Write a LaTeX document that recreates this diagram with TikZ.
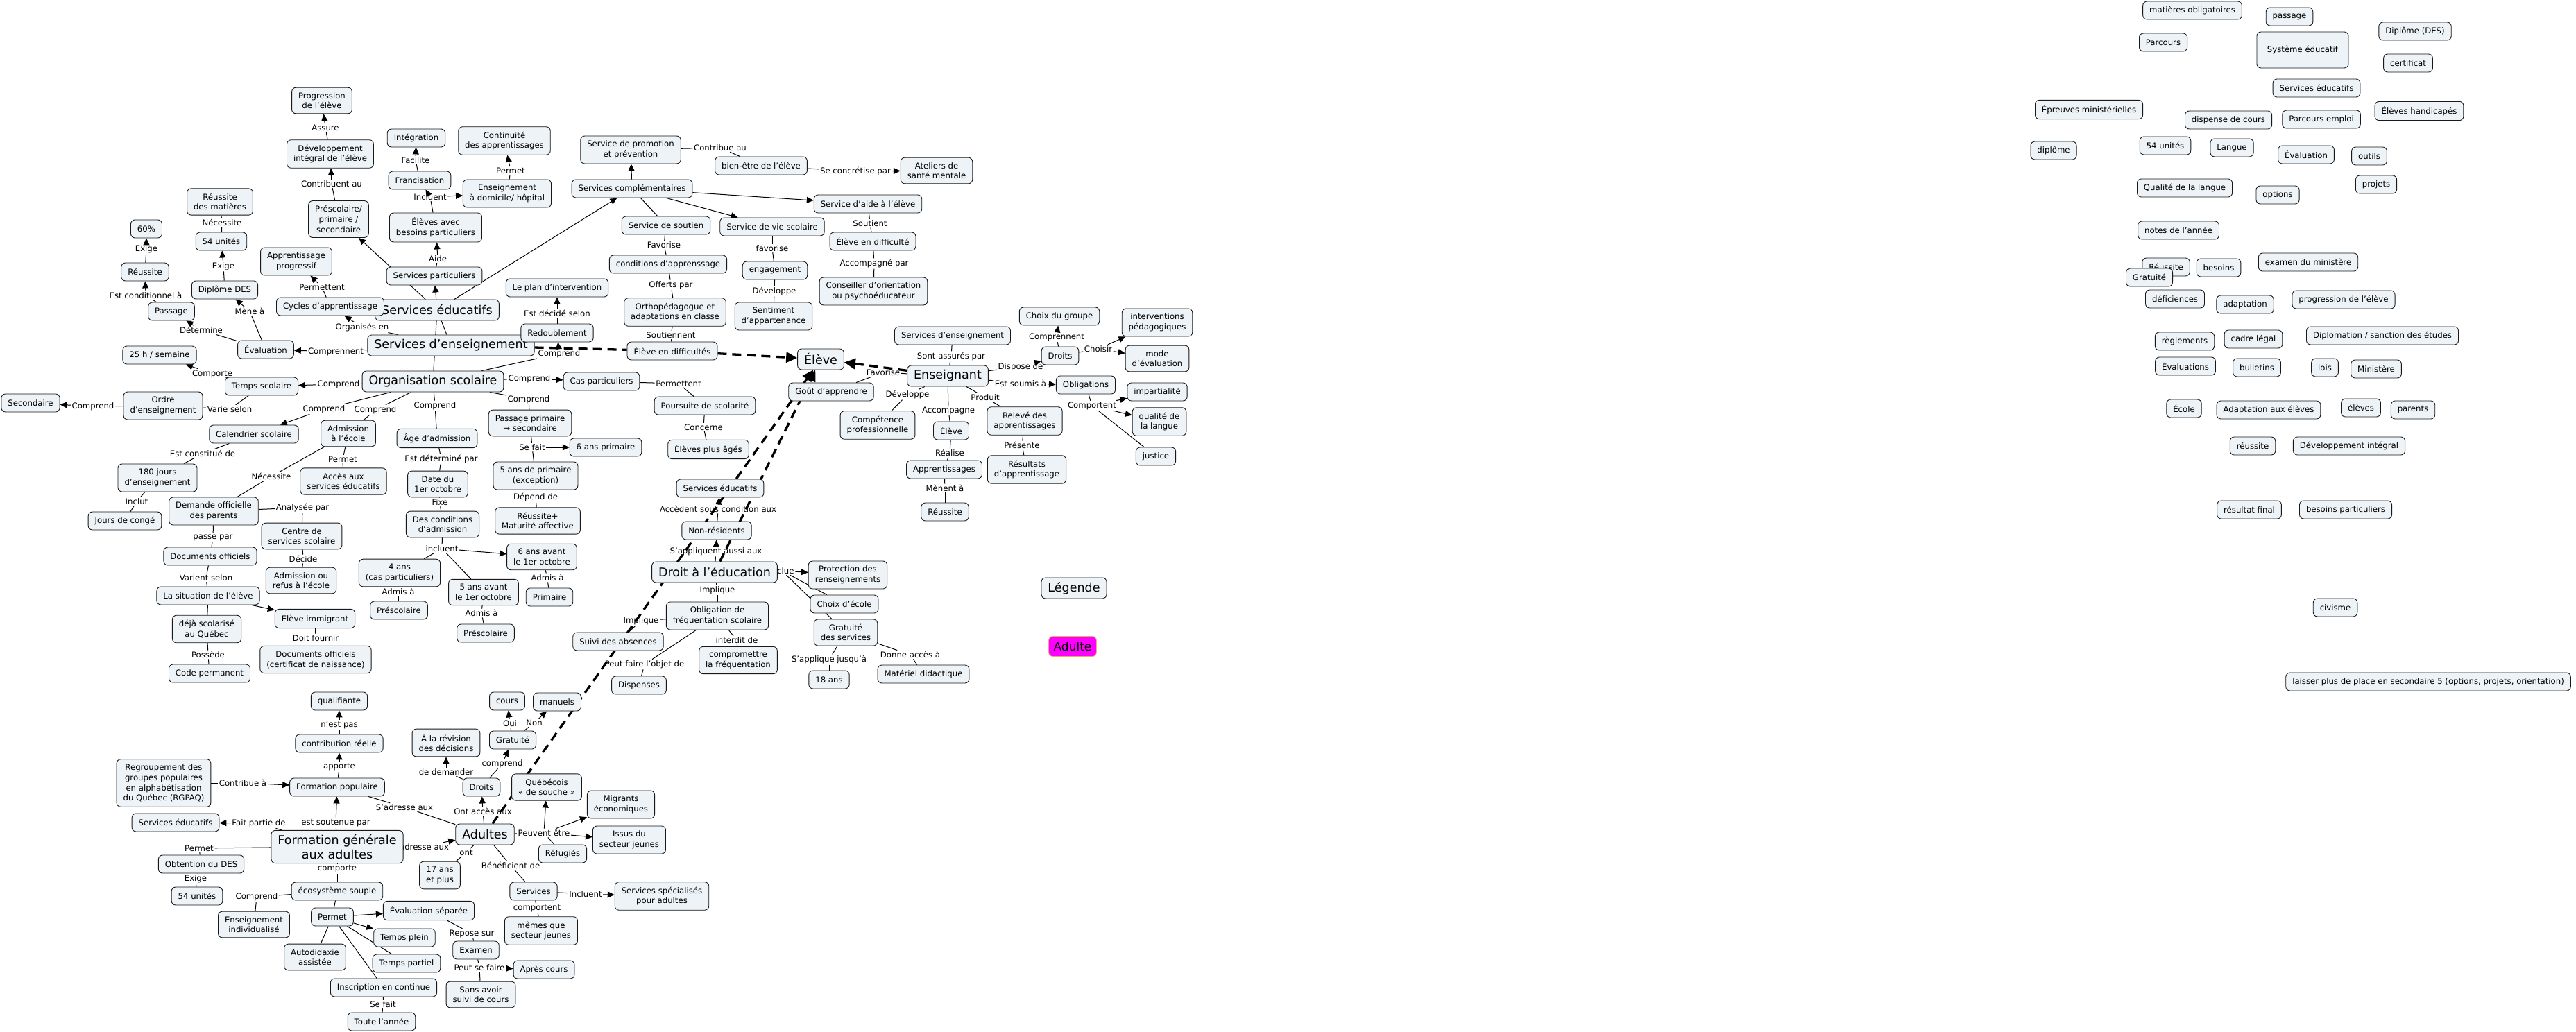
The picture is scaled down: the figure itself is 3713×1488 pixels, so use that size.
\documentclass[tikz,border=0pt]{standalone}
\usepackage{fontspec}
\setmainfont{DejaVu Sans}
\usetikzlibrary{arrows.meta}
\pgfdeclarelayer{bgl}
\pgfdeclarelayer{edges}
\pgfsetlayers{bgl,edges,main}
\definecolor{nfill}{RGB}{237,243,246}
\definecolor{nline}{RGB}{25,25,25}
\definecolor{adfill}{RGB}{255,0,255}
\definecolor{adline}{RGB}{235,170,90}
\newcommand\fs{\fontsize{11.7}{14.7}\selectfont}
\newcommand\fb{\fontsize{17.5}{21}\selectfont}
\newcommand\myA[3]{\draw[ln] (#1) -- (#2); \draw[ar] (#2) -- (#3);}
\newcommand\myL[3]{\draw[ln] (#1) -- (#2); \draw[ln] (#2) -- (#3);}
\begin{document}
\begin{tikzpicture}[x=1pt,y=-1pt,
 cbox/.style={draw=nline, fill=nfill, rounded corners=6pt, align=center, inner xsep=9.5pt, inner ysep=7pt, minimum height=26pt, font=\fs, line width=0.9pt},
 cbig/.style={cbox, font=\fb, inner ysep=5pt, minimum height=30pt},
 clab/.style={font=\fs, inner sep=1.5pt, align=center},
 ln/.style={line width=1pt, draw=black},
 ar/.style={ln, -{Triangle[length=10pt,width=9pt]}},
 dsh/.style={line width=3.3pt, dash pattern=on 13pt off 8pt},
 dar/.style={dsh, -{Triangle[length=16pt,width=15pt]}},
]
\begin{pgfonlayer}{bgl}
\fill[white] (0,0) rectangle (3713,1488);
\end{pgfonlayer}
\path[use as bounding box] (0,0) rectangle (3713,1488);

% ---------- link labels ----------
\node[clab] (lAssure) at (469,184) {Assure};
\node[clab] (lContribAu) at (478,265) {Contribuent au};
\node[clab] (lNecess) at (320,321) {Nécessite};
\node[clab] (lExigeA) at (211,359) {Exige};
\node[clab] (lExigeB) at (322,384) {Exige};
\node[clab] (lCondit) at (210,426) {Est conditionnel à};
\node[clab] (lMene) at (360,449) {Mène à};
\node[clab] (lPermettent) at (464,414) {Permettent};
\node[clab] (lOrganises) at (522,472) {Organisés en};
\node[clab] (lDetermine) at (290,476) {Détermine};
\node[clab] (lComprennent) at (484,507) {Comprennent};
\node[clab] (lComporte) at (306,539) {Comporte};
\node[clab] (lCompA) at (488,554) {Comprend};
\node[clab] (lCompB) at (134,586) {Comprend};
\node[clab] (lVarie) at (331,590) {Varie selon};
\node[clab] (lCompC) at (467,590) {Comprend};
\node[clab] (lCompD) at (541,591) {Comprend};
\node[clab] (lConstitue) at (292,654) {Est constitué de};
\node[clab] (lFacilite) at (599,231) {Facilite};
\node[clab] (lPermetA) at (736,246) {Permet};
\node[clab] (lIncluentA) at (620,284) {Incluent};
\node[clab] (lAide) at (631,373) {Aide};
\node[clab] (lContribueAu) at (1038,213) {Contribue au};
\node[clab] (lConcretise) at (1233,247) {Se concrétise par};
\node[clab] (lFavA) at (957,353) {Favorise};
\node[clab] (lFavB) at (1113,358) {favorise};
\node[clab] (lOfferts) at (967,411) {Offerts par};
\node[clab] (lDevA) at (1116,420) {Développe};
\node[clab] (lSoutient) at (1254,322) {Soutient};
\node[clab] (lAccPar) at (1260,380) {Accompagné par};
\node[clab] (lDecide) at (803,452) {Est décidé selon};
\node[clab] (lSoutiennent) at (967,483) {Soutiennent};
\node[clab] (lCompE) at (806,510) {Comprend};
\node[clab] (lCompF) at (763,546) {Comprend};
\node[clab] (lPermettentB) at (978,553) {Permettent};
\node[clab] (lCompG) at (627,585) {Comprend};
\node[clab] (lCompH) at (762,576) {Comprend};
\node[clab] (lConcerne) at (1014,616) {Concerne};
\node[clab] (lSeFaitA) at (767,645) {Se fait};
\node[clab] (lDetPar) at (636,662) {Est déterminé par};
\node[clab] (lFixe) at (634,724) {Fixe};
\node[clab] (lDepend) at (772,717) {Dépend de};
\node[clab] (lIncluentB) at (637,791) {incluent};
\node[clab] (lAdmisA) at (789,833) {Admis à};
\node[clab] (lAdmisB) at (694,884) {Admis à};
\node[clab] (lAdmisC) at (574,853) {Admis à};
\node[clab] (lPermetB) at (494,662) {Permet};
\node[clab] (lNecessB) at (391,687) {Nécessite};
\node[clab] (lInclut) at (197,723) {Inclut};
\node[clab] (lAnalysee) at (436,732) {Analysée par};
\node[clab] (lPassePar) at (307,775) {passe par};
\node[clab] (lDecideB) at (437,806) {Décide};
\node[clab] (lVarient) at (297,833) {Varient selon};
\node[clab] (lDoit) at (455,920) {Doit fournir};
\node[clab] (lPossede) at (300,944) {Possède};
\node[clab] (lAccedent) at (1035,734) {Accèdent sous condition aux};
\node[clab] (lSappliquent) at (1032,795) {S'appliquent aussi aux};
\node[clab] (lInclue) at (1127,823) {Inclue};
\node[clab] (lImplA) at (1034,851) {Implique};
\node[clab] (lImplB) at (924,895) {Implique};
\node[clab] (lInterdit) at (1062,923) {interdit de};
\node[clab] (lPeutFaire) at (929,958) {Peut faire l'objet de};
\node[clab] (lSapplique) at (1195,951) {S'applique jusqu'à};
\node[clab] (lDonne) at (1312,944) {Donne accès à};
\node[clab] (lAssures) at (1371,514) {Sont assurés par};
\node[clab] (lDispose) at (1471,529) {Dispose de};
\node[clab] (lComprennentB) at (1523,486) {Comprennent};
\node[clab] (lChoisir) at (1583,503) {Choisir};
\node[clab] (lSoumis) at (1471,553) {Est soumis à};
\node[clab] (lComportent) at (1574,585) {Comportent};
\node[clab] (lFavC) at (1273,537) {Favorise};
\node[clab] (lDevB) at (1308,569) {Développe};
\node[clab] (lAccompagne) at (1367,592) {Accompagne};
\node[clab] (lProduit) at (1420,573) {Produit};
\node[clab] (lPresente) at (1473,642) {Présente};
\node[clab] (lRealise) at (1369,653) {Réalise};
\node[clab] (lMenent) at (1362,704) {Mènent à};
\node[clab] (lNestPas) at (489,1045) {n'est pas};
\node[clab] (lApporte) at (489,1106) {apporte};
\node[clab] (lContribuea) at (350,1129) {Contribue à};
\node[clab] (lSadresseA) at (583,1164) {S'adresse aux};
\node[clab] (lFaitPartie) at (373,1187) {Fait partie de};
\node[clab] (lSoutenue) at (484,1187) {est soutenue par};
\node[clab] (lPermetC) at (287,1223) {Permet};
\node[clab] (lExigeC) at (282,1267) {Exige};
\node[clab] (lComporteB) at (486,1253) {comporte};
\node[clab] (lCompI) at (370,1293) {Comprend};
\node[clab] (lSeFaitB) at (552,1448) {Se fait};
\node[clab] (lSadresseB) at (606,1221) {S'adresse aux};
\node[clab] (lOntAcces) at (696,1170) {Ont accès aux};
\node[clab] (lDemander) at (643,1113) {de demander};
\node[clab] (lCompJ) at (724,1101) {comprend};
\node[clab] (lOui) at (735,1043) {Oui};
\node[clab] (lNon) at (770,1042) {Non};
\node[clab] (lPeuvent) at (784,1201) {Peuvent être};
\node[clab] (lOnt) at (672,1229) {ont};
\node[clab] (lBenef) at (736,1248) {Bénéficient de};
\node[clab] (lIncluentC) at (844,1289) {Incluent};
\node[clab] (lComportentB) at (774,1310) {comportent};
\node[clab] (lRepose) at (680,1346) {Repose sur};
\node[clab] (lPeutSe) at (691,1395) {Peut se faire};

% ---------- concepts : left ----------
\node[cbox] (prog) at (464,145) {Progression\\de l'élève};
\node[cbox] (dev) at (476,222) {Développement\\intégral de l'élève};
\node[cbox] (presc) at (488,316) {Préscolaire/\\primaire /\\secondaire};
\node[cbox] (integ) at (600,199) {Intégration};
\node[cbox] (franc) at (605,260) {Francisation};
\node[cbox] (contin) at (727,203) {Continuité\\des apprentissages};
\node[cbox] (ensdom) at (731,279) {Enseignement\\à domicile/ hôpital};
\node[cbox] (elbp) at (628,328) {Élèves avec\\besoins particuliers};
\node[cbox] (servpart) at (626,398) {Services particuliers};
\node[cbig] (servedu) at (630,447) {Services éducatifs};
\node[cbox] (reussmat) at (317,291) {Réussite\\des matières};
\node[cbox] (u54) at (319,348) {54 unités};
\node[cbox] (p60) at (211,330) {60\%};
\node[cbox] (reuss) at (209,392) {Réussite};
\node[cbox] (dipdes) at (324,418) {Diplôme DES};
\node[cbox] (passage) at (247,449) {Passage};
\node[cbox] (apprprog) at (427,377) {Apprentissage\\progressif};
\node[cbox] (cycles) at (476,442) {Cycles d'apprentissage};
\node[cbox] (evaluation) at (383,504) {Évaluation};
\node[cbig] (servens) at (650,498) {Services d’enseignement};
\node[cbox] (h25) at (230,512) {25 h / semaine};
\node[cbig] (orgsco) at (624,550) {Organisation scolaire};
\node[cbox] (tempssco) at (377,557) {Temps scolaire};
\node[cbox] (ordre) at (235,585) {Ordre\\d'enseignement};
\node[cbox] (second) at (44,581) {Secondaire};
\node[cbox] (calend) at (366,626) {Calendrier scolaire};
\node[cbox] (admecole) at (502,625) {Admission\\à l'école};
\node[cbox] (ageadm) at (630,632) {Âge d'admission};
\node[cbox] (passprim) at (764,610) {Passage primaire\\→ secondaire};
\node[cbox] (ans6prim) at (873,645) {6 ans primaire};
\node[cbox] (j180) at (227,689) {180 jours\\d'enseignement};
\node[cbox] (acces) at (495,694) {Accès aux\\services éducatifs};
\node[cbox] (conge) at (180,751) {Jours de congé};
\node[cbox] (demande) at (308,737) {Demande officielle\\des parents};
\node[cbox] (centre) at (435,773) {Centre de\\services scolaire};
\node[cbox] (docoff) at (303,802) {Documents officiels};
\node[cbox] (admrefus) at (434,837) {Admission ou\\refus à l'école};
\node[cbox] (situation) at (300,859) {La situation de l'élève};
\node[cbox] (deja) at (298,907) {déjà scolarisé\\au Québec};
\node[cbox] (immigrant) at (454,892) {Élève immigrant};
\node[cbox] (codeperm) at (302,971) {Code permanent};
\node[cbox] (docnaiss) at (455,951) {Documents officiels\\(certificat de naissance)};
\node[cbox] (datedu) at (631,698) {Date du\\1er octobre};
\node[cbox] (ans5exc) at (772,686) {5 ans de primaire\\(exception)};
\node[cbox] (condadm) at (638,756) {Des conditions\\d'admission};
\node[cbox] (reussmat2) at (775,751) {Réussite+\\Maturité affective};
\node[cbox] (ans6avant) at (781,803) {6 ans avant\\le 1er octobre};
\node[cbox] (ans4) at (576,826) {4 ans\\(cas particuliers)};
\node[cbox] (ans5avant) at (697,854) {5 ans avant\\le 1er octobre};
\node[cbox] (primaire) at (792,861) {Primaire};
\node[cbox] (prescA) at (575,880) {Préscolaire};
\node[cbox] (prescB) at (700,913) {Préscolaire};

% ---------- concepts : middle ----------
\node[cbox] (servpromo) at (909,216) {Service de promotion\\et prévention};
\node[cbox] (bienetre) at (1097,239) {bien-être de l'élève};
\node[cbox] (ateliers) at (1350,246) {Ateliers de\\santé mentale};
\node[cbox] (servcompl) at (911,272) {Services complémentaires};
\node[cbox] (servaide) at (1251,294) {Service d'aide à l'élève};
\node[cbox] (servsout) at (960,325) {Service de soutien};
\node[cbox] (servvie) at (1113,327) {Service de vie scolaire};
\node[cbox] (elevediff2) at (1258,348) {Élève en difficulté};
\node[cbox] (condapp) at (963,381) {conditions d'apprenssage};
\node[cbox] (engagement) at (1117,390) {engagement};
\node[cbox] (planint) at (803,415) {Le plan d'intervention};
\node[cbox] (conseiller) at (1259,420) {Conseiller d'orientation\\ou psychoéducateur};
\node[cbox] (ortho) at (973,450) {Orthopédagogue et\\adaptations en classe};
\node[cbox] (sentiment) at (1115,456) {Sentiment\\d'appartenance};
\node[cbox] (redoubl) at (803,480) {Redoublement};
\node[cbox] (elevediff) at (969,506) {Élève en difficultés};
\node[cbig] (eleve) at (1183,518) {Élève};
\node[cbox] (cas) at (867,550) {Cas particuliers};
\node[cbox] (goutapp) at (1198,565) {Goût d'apprendre};
\node[cbox] (poursuite) at (1016,585) {Poursuite de scolarité};
\node[cbox] (plusages) at (1021,648) {Élèves plus âgés};

\node[cbox] (choixgrp) at (1527,456) {Choix du groupe};
\node[cbox] (interv) at (1668,465) {interventions\\pédagogiques};
\node[cbox] (servens2) at (1373,484) {Services d'enseignement};
\node[cbox] (droitsE) at (1528,513) {Droits};
\node[cbox] (mode) at (1668,517) {mode\\d'évaluation};
\node[cbig] (enseignant) at (1366,542) {Enseignant};
\node[cbox] (oblig) at (1565,555) {Obligations};
\node[cbox] (impart) at (1668,565) {impartialité};
\node[cbox] (qualite) at (1671,608) {qualité de\\la langue};
\node[cbox] (competence) at (1265,613) {Compétence\\professionnelle};
\node[cbox] (eleveE) at (1371,621) {Élève};
\node[cbox] (releve) at (1477,607) {Relevé des\\apprentissages};
\node[cbox] (justice) at (1666,658) {justice};
\node[cbox] (apprentissages) at (1361,677) {Apprentissages};
\node[cbox] (resultats) at (1480,677) {Résultats\\d'apprentissage};
\node[cbox] (reussiteE) at (1362,738) {Réussite};

\node[cbox] (servedu2) at (1038,704) {Services éducatifs};
\node[cbox] (nonres) at (1033,765) {Non-résidents};
\node[cbig] (droitedu) at (1030,825) {Droit à l'éducation};
\node[cbox] (protection) at (1222,829) {Protection des\\renseignements};
\node[cbox] (choixecole) at (1217,871) {Choix d'école};
\node[cbox] (gratserv) at (1219,912) {Gratuité\\des services};
\node[cbox] (oblfreq) at (1034,888) {Obligation de\\fréquentation scolaire};
\node[cbox] (suivi) at (891,925) {Suivi des absences};
\node[cbox] (compromettre) at (1064,952) {compromettre\\la fréquentation};
\node[cbox] (dispenses) at (921,988) {Dispenses};
\node[cbox] (ans18) at (1195,980) {18 ans};
\node[cbox] (materiel) at (1331,972) {Matériel didactique};

\node[cbig] (legende) at (1548,848) {Légende};
\node[cbox, font=\fontsize{17}{20}\selectfont, fill=adfill, draw=adline, line width=0.7pt, inner ysep=4pt, minimum height=29pt, inner xsep=7pt] (adulte) at (1546,932) {Adulte};

% ---------- concepts : bottom ----------
\node[cbox] (qualifiante) at (489,1011) {qualifiante};
\node[cbox] (contrib) at (489,1072) {contribution réelle};
\node[cbox] (cours) at (731,1011) {cours};
\node[cbox] (manuels) at (803,1012) {manuels};
\node[cbox] (revision) at (643,1071) {À la révision\\des décisions};
\node[cbox] (gratuite) at (739,1067) {Gratuité};
\node[cbox] (rgpaq) at (236,1129) {Regroupement des\\groupes populaires\\en alphabétisation\\du Québec (RGPAQ)};
\node[cbox] (formpop) at (486,1135) {Formation populaire};
\node[cbox] (droitsA) at (694,1135) {Droits};
\node[cbox] (quebecois) at (788,1135) {Québécois\\« de souche »};
\node[cbox] (migrants) at (895,1160) {Migrants\\économiques};
\node[cbox] (servedu3) at (253,1186) {Services éducatifs};
\node[cbig, inner ysep=6pt] (fga) at (486,1221) {Formation générale\\aux adultes};
\node[cbig] (adultes) at (699,1203) {Adultes};
\node[cbox] (issus) at (907,1211) {Issus du\\secteur jeunes};
\node[cbox] (refugies) at (811,1231) {Réfugiés};
\node[cbox] (obtention) at (290,1246) {Obtention du DES};
\node[cbox] (ans17) at (634,1262) {17 ans\\et plus};
\node[cbox] (ecosys) at (486,1285) {écosystème souple};
\node[cbox] (services) at (769,1285) {Services};
\node[cbox] (servspec) at (954,1292) {Services spécialisés\\pour adultes};
\node[cbox] (u54b) at (284,1292) {54 unités};
\node[cbox] (evalsep) at (618,1313) {Évaluation séparée};
\node[cbox] (permetN) at (479,1322) {Permet};
\node[cbox] (enseindiv) at (366,1333) {Enseignement\\individualisé};
\node[cbox] (memes) at (780,1342) {mêmes que\\secteur jeunes};
\node[cbox] (tempsplein) at (583,1352) {Temps plein};
\node[cbox] (examen) at (686,1370) {Examen};
\node[cbox] (autodid) at (454,1380) {Autodidaxie\\assistée};
\node[cbox] (tempspartiel) at (586,1389) {Temps partiel};
\node[cbox] (aprescours) at (784,1398) {Après cours};
\node[cbox] (inscription) at (553,1424) {Inscription en continue};
\node[cbox] (sansavoir) at (693,1434) {Sans avoir\\suivi de cours};
\node[cbox] (touteannee) at (550,1473) {Toute l'année};

% ---------- right cluster (unlinked) ----------
\node[cbox] (matob) at (3160,15) {matières obligatoires};
\node[cbox] (passageB) at (3300,24) {passage};
\node[cbox] (diplDES) at (3481,45) {Diplôme (DES)};
\node[cbox] (parcours) at (3118,61) {Parcours};
\node[cbox, minimum height=52pt, minimum width=132pt] (syseduc) at (3319,72) {Système éducatif};
\node[cbox] (certificat) at (3471,91) {certificat};
\node[cbox] (servedu4) at (3339,127) {Services éducatifs};
\node[cbox] (epreuves) at (3011,158) {Épreuves ministérielles};
\node[cbox] (dispense) at (3212,173) {dispense de cours};
\node[cbox] (parcemploi) at (3346,172) {Parcours emploi};
\node[cbox] (handicap) at (3487,160) {Élèves handicapés};
\node[cbox] (diplome) at (2960,217) {diplôme};
\node[cbox] (u54c) at (3121,210) {54 unités};
\node[cbox] (langue) at (3217,213) {Langue};
\node[cbox] (evaluationB) at (3324,223) {Évaluation};
\node[cbox] (outils) at (3415,225) {outils};
\node[cbox] (qualangue) at (3149,271) {Qualité de la langue};
\node[cbox] (options) at (3283,281) {options};
\node[cbox] (projets) at (3425,266) {projets};
\node[cbox] (notes) at (3140,332) {notes de l’année};
\node[cbox] (reussiteC) at (3122,385) {Réussite};
\node[cbox] (besoins) at (3198,386) {besoins};
\node[cbox] (examenmin) at (3327,378) {examen du ministère};
\node[cbox] (gratuiteB) at (3098,400) {Gratuité};
\node[cbox] (deficiences) at (3135,431) {déficiences};
\node[cbox] (adaptation) at (3236,439) {adaptation};
\node[cbox] (progressionB) at (3378,432) {progression de l’élève};
\node[cbox] (reglements) at (3149,492) {règlements};
\node[cbox] (cadre) at (3248,489) {cadre légal};
\node[cbox] (diplomation) at (3434,484) {Diplomation / sanction des études};
\node[cbox] (evaluations) at (3150,528) {Évaluations};
\node[cbox] (bulletins) at (3253,530) {bulletins};
\node[cbox] (lois) at (3351,530) {lois};
\node[cbox] (ministere) at (3425,532) {Ministère};
\node[cbox] (ecole) at (3148,589) {École};
\node[cbox] (adapteleves) at (3270,591) {Adaptation aux élèves};
\node[cbox] (eleves) at (3403,588) {élèves};
\node[cbox] (parents) at (3478,591) {parents};
\node[cbox] (reussiteD) at (3247,643) {réussite};
\node[cbox] (devint) at (3386,643) {Développement intégral};
\node[cbox] (resfinal) at (3242,735) {résultat final};
\node[cbox] (besoinspart) at (3381,735) {besoins particuliers};
\node[cbox] (civisme) at (3366,876) {civisme};
\node[cbox] (laisser) at (3500,983) {laisser plus de place en secondaire 5 (options, projets, orientation)};

% ---------- connectors ----------
\begin{pgfonlayer}{edges}
\myA{dev}{lAssure}{prog}
\myA{presc}{lContribAu}{dev}
\myL{reussmat}{lNecess}{u54}
\myA{reuss}{lExigeA}{p60}
\myA{dipdes}{lExigeB}{u54}
\myA{passage}{lCondit}{reuss}
\myA{evaluation}{lMene}{dipdes}
\myA{cycles}{lPermettent}{apprprog}
\myA{servens}{lOrganises}{cycles}
\myA{evaluation}{lDetermine}{passage}
\myA{servens}{lComprennent}{evaluation}
\myA{tempssco}{lComporte}{h25}
\myA{orgsco}{lCompA}{tempssco}
\myA{ordre}{lCompB}{second}
\myL{tempssco}{lVarie}{ordre}
\myA{orgsco}{lCompC}{calend}
\myL{orgsco}{lCompD}{admecole}
\myL{calend}{lConstitue}{j180}
\myA{franc}{lFacilite}{integ}
\myA{ensdom}{lPermetA}{contin}
\draw[ln] (elbp) -- (lIncluentA); \draw[ar] (lIncluentA) -- (franc); \draw[ar] (lIncluentA) -- (ensdom);
\myA{servpart}{lAide}{elbp}
\draw[ar] (servedu) -- (servpart);
\draw[ar] (servedu) -- (presc);
\draw[ar] (servedu) -- (servcompl);
\draw[ln] (servedu) -- (servens);
\draw[ln] (servedu) -- (orgsco);
\myL{servpromo}{lContribueAu}{bienetre}
\myA{bienetre}{lConcretise}{ateliers}
\draw[ar] (servcompl) -- (servpromo);
\draw[ar] (servcompl) -- (servaide);
\draw[ar] (servcompl) -- (servvie);
\draw[ln] (servcompl) -- (servsout);
\myL{servsout}{lFavA}{condapp}
\myL{servvie}{lFavB}{engagement}
\myL{condapp}{lOfferts}{ortho}
\myL{engagement}{lDevA}{sentiment}
\myL{servaide}{lSoutient}{elevediff2}
\myL{elevediff2}{lAccPar}{conseiller}
\myA{redoubl}{lDecide}{planint}
\myL{ortho}{lSoutiennent}{elevediff}
\myA{orgsco}{lCompE}{redoubl}
\myA{orgsco}{lCompF}{cas}
\myL{cas}{lPermettentB}{poursuite}
\myL{orgsco}{lCompG}{ageadm}
\myL{orgsco}{lCompH}{passprim}
\myL{poursuite}{lConcerne}{plusages}
\myA{passprim}{lSeFaitA}{ans6prim}
\draw[ln] (lSeFaitA) -- (ans5exc);
\myL{ageadm}{lDetPar}{datedu}
\myL{datedu}{lFixe}{condadm}
\myL{ans5exc}{lDepend}{reussmat2}
\draw[ln] (condadm) -- (lIncluentB); \draw[ar] (lIncluentB) -- (ans6avant); \draw[ln] (lIncluentB) -- (ans5avant); \draw[ln] (lIncluentB) -- (ans4);
\myL{ans6avant}{lAdmisA}{primaire}
\myL{ans5avant}{lAdmisB}{prescB}
\myL{ans4}{lAdmisC}{prescA}
\myL{admecole}{lPermetB}{acces}
\myL{admecole}{lNecessB}{demande}
\myL{j180}{lInclut}{conge}
\myL{demande}{lAnalysee}{centre}
\myL{demande}{lPassePar}{docoff}
\myL{centre}{lDecideB}{admrefus}
\myL{docoff}{lVarient}{situation}
\draw[ln] (situation) -- (deja);
\draw[ar] (situation) -- (immigrant);
\myL{immigrant}{lDoit}{docnaiss}
\myL{deja}{lPossede}{codeperm}
\myA{nonres}{lAccedent}{servedu2}
\myA{droitedu}{lSappliquent}{nonres}
\draw[ar] (lInclue) -- (protection); \draw[ln] (lInclue) -- (choixecole); \draw[ln] (lInclue) -- (gratserv);
\myL{droitedu}{lImplA}{oblfreq}
\myL{oblfreq}{lImplB}{suivi}
\myL{oblfreq}{lInterdit}{compromettre}
\myL{oblfreq}{lPeutFaire}{dispenses}
\myL{gratserv}{lSapplique}{ans18}
\myL{gratserv}{lDonne}{materiel}
\myL{servens2}{lAssures}{enseignant}
\myA{enseignant}{lDispose}{droitsE}
\myA{droitsE}{lComprennentB}{choixgrp}
\draw[ln] (droitsE) -- (lChoisir); \draw[ar] (lChoisir) -- (interv); \draw[ar] (lChoisir) -- (mode);
\myA{enseignant}{lSoumis}{oblig}
\draw[ln] (oblig) -- (lComportent); \draw[ar] (lComportent) -- (impart); \draw[ar] (lComportent) -- (qualite); \draw[ln] (lComportent) -- (justice);
\myL{enseignant}{lFavC}{goutapp}
\myL{enseignant}{lDevB}{competence}
\myL{enseignant}{lAccompagne}{eleveE}
\myL{enseignant}{lProduit}{releve}
\myL{releve}{lPresente}{resultats}
\myL{eleveE}{lRealise}{apprentissages}
\myL{apprentissages}{lMenent}{reussiteE}
\myA{contrib}{lNestPas}{qualifiante}
\myA{formpop}{lApporte}{contrib}
\myA{rgpaq}{lContribuea}{formpop}
\myL{formpop}{lSadresseA}{adultes}
\myA{fga}{lFaitPartie}{servedu3}
\myA{fga}{lSoutenue}{formpop}
\myL{fga}{lPermetC}{obtention}
\myL{obtention}{lExigeC}{u54b}
\myL{fga}{lComporteB}{ecosys}
\myL{ecosys}{lCompI}{enseindiv}
\draw[ln] (ecosys) -- (permetN);
\draw[ar] (permetN) -- (evalsep);
\draw[ar] (permetN) -- (tempsplein);
\draw[ln] (permetN) -- (tempspartiel);
\draw[ln] (permetN) -- (inscription);
\draw[ln] (permetN) -- (autodid);
\myL{inscription}{lSeFaitB}{touteannee}
\draw[ar] (lSadresseB) -- (adultes);
\myA{adultes}{lOntAcces}{droitsA}
\myA{droitsA}{lDemander}{revision}
\myA{droitsA}{lCompJ}{gratuite}
\draw[ln] (gratuite) -- (lOui); \draw[ar] (lOui) -- (cours);
\draw[ln] (gratuite) -- (lNon); \draw[ar] (lNon) -- (manuels);
\draw[ln] (adultes) -- (lPeuvent); \draw[ar] (lPeuvent) -- (quebecois); \draw[ar] (lPeuvent) -- (migrants); \draw[ar] (lPeuvent) -- (issus); \draw[ln] (lPeuvent) -- (refugies);
\myL{adultes}{lOnt}{ans17}
\myL{adultes}{lBenef}{services}
\myA{services}{lIncluentC}{servspec}
\myL{services}{lComportentB}{memes}
\myL{evalsep}{lRepose}{examen}
\draw[ln] (examen) -- (lPeutSe); \draw[ar] (lPeutSe) -- (aprescours); \draw[ln] (lPeutSe) -- (sansavoir);
% dashed
\draw[dsh] (servens) -- (elevediff);
\draw[dar] (elevediff) -- (eleve);
\draw[dar] (enseignant) -- (eleve);
\draw[dar] (adultes) -- (eleve);
\draw[dar] (droitedu) -- (eleve);
\end{pgfonlayer}
\end{tikzpicture}
\end{document}
